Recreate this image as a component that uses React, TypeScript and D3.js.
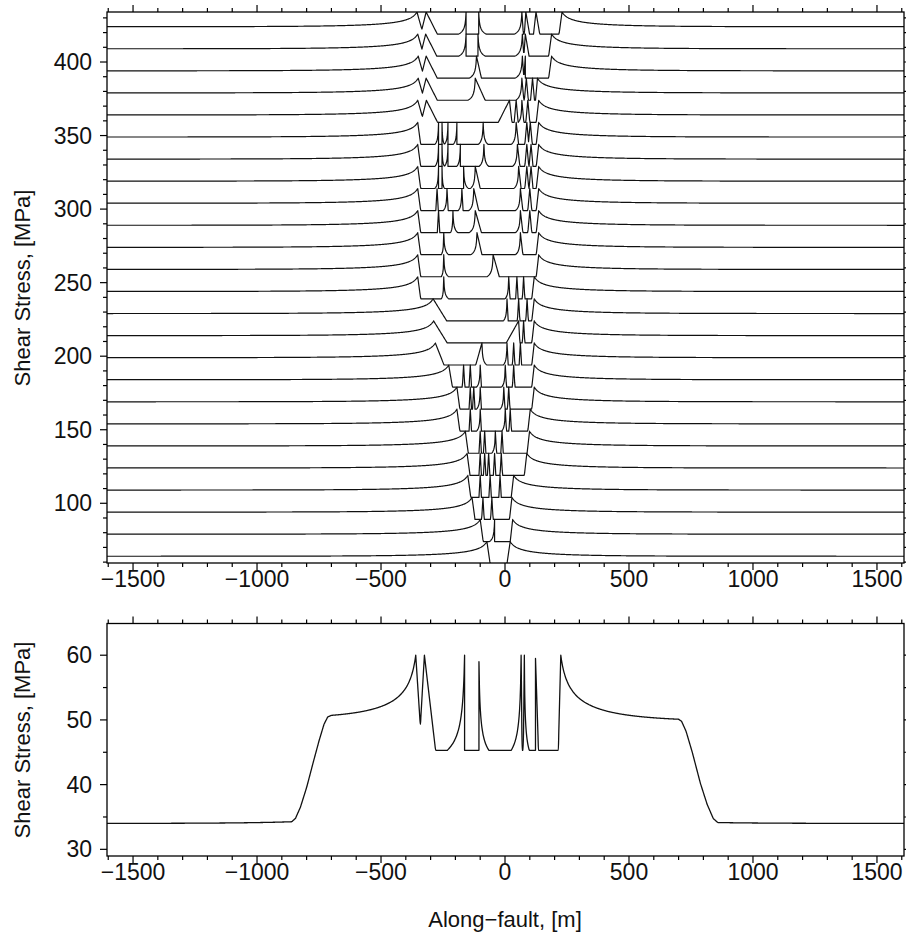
import React, { useMemo } from "react";
import * as d3 from "d3";

// ---------- shared axis data ----------
const X_DOMAIN = [-1605, 1609];
const X_MAJOR = [-1500, -1000, -500, 0, 500, 1000, 1500];
const X_MINOR = d3.range(-1600, 1601, 100);

// ---------- upper panel: stacked stress snapshots ----------
const SNAP_TOP_LEVEL = 424; // far-field level of the uppermost snapshot, MPa
const SNAP_STEP = 15; // vertical offset between snapshots, MPa
const PEAK_RISE = 10; // peak strength above far-field, MPa
const RESID_DROP = 5; // residual level below far-field, MPa

const TOP_Y_DOMAIN = [59.4, 434];
const TOP_Y_MAJOR = [100, 150, 200, 250, 300, 350, 400];
const TOP_Y_MINOR = d3.range(60, 431, 10);

// outer rupture tips of every snapshot (top to bottom), m
const tipLeft = [-355, -352, -350, -350, -352, -352, -352, -352, -352, -352, -352, -352, -352, -290, -288, -281, -227, -194, -194, -160, -153, -150, -133, -100, -73];
const tipRight = [230, 188, 188, 131, 136, 136, 136, 136, 136, 136, 136, 136, 118, 118, 118, 118, 118, 118, 102, 99, 88, 35, 28, 31, 21];
// width of the cohesive ramp behind each tip, m
const rampLeft = [25, 25, 25, 25, 25, 12, 12, 12, 12, 12, 12, 12, 12, 55, 55, 35, 15, 12, 12, 12, 12, 12, 12, 12, 13];
const rampRight = [12, 12, 12, 8, 10, 10, 10, 10, 10, 10, 10, 10, 10, 10, 10, 10, 10, 10, 10, 10, 10, 10, 10, 10, 13];

// stress peaks inside the ruptured zone: [x, left width, right width]
// positive width = linear ramp, negative = curved decay, 0 = vertical edge
const innerPeaks: number[][][] = [
  [[-318, 22, 45], [-157, -30, 0], [-106, 0, -30], [68, -30, 6], [84, 6, 15], [125, 10, 15]],
  [[-320, 22, 45], [-157, -30, 0], [-109, 0, -30], [70, -30, 6], [82, 6, 15]],
  [[-318, 22, 45], [-115, -30, 20], [70, -30, 6], [82, 6, 0]],
  [[-318, 22, 45], [-120, -30, 40], [68, -25, 8], [86, 8, 8], [111, 8, 8]],
  [[-317, 22, 45], [18, 45, 10], [45, 8, 8], [68, -15, 8], [92, 8, 8]],
  [[-268, -15, 0], [-254, 0, -10], [-230, -15, 0], [-194, -15, 0], [-88, -20, -20], [45, -20, 10], [88, 8, 8], [102, 8, 8]],
  [[-268, -15, 0], [-254, 0, -10], [-230, -15, 0], [-180, -15, 0], [-85, -20, -20], [50, -20, 10], [88, 8, 8], [105, 8, 8]],
  [[-268, -15, 0], [-254, 0, -10], [-167, 0, -20], [-120, -20, 20], [55, -20, 10], [88, 8, 8], [105, 8, 8]],
  [[-274, 5, 5], [-234, -15, 5], [-174, -15, 5], [-126, -20, 20], [62, -20, 10], [100, 8, 8]],
  [[-268, 5, 5], [-210, -10, -20], [-120, -25, 25], [62, -20, 10], [100, 8, 8]],
  [[-247, -10, -20], [-113, -25, 20], [62, -20, 10]],
  [[-247, -10, -20], [-48, -25, 25]],
  [[-247, -10, -20], [15, -15, 5], [48, 5, 5], [75, 5, 5]],
  [[8, -15, 5], [55, 5, 5], [89, 5, 5]],
  [[55, 50, 5], [75, 5, 5]],
  [[-93, 25, -20], [8, -15, 5], [35, 5, 5], [62, 5, 5]],
  [[-167, 5, 5], [-140, 5, 5], [-100, -15, 5], [1, -15, 5], [35, 5, 5]],
  [[-140, 5, 5], [-126, 5, 5], [-100, -15, 5], [-5, -15, 5], [15, 5, 5]],
  [[-140, 5, 5], [-100, -15, 5], [1, -15, 5], [21, 5, 5]],
  [[-100, 5, 5], [-82, 5, 5], [-39, -15, 5], [-12, 5, 5]],
  [[-100, 5, 5], [-82, 5, 5], [-66, 5, 5], [-42, 5, 5], [-15, 5, 5]],
  [[-100, 5, 5], [-60, 5, 5], [-20, 5, 5]],
  [[-89, 5, 5], [-53, 5, 5]],
  [[-42, -20, 0]],
  [],
];

// ---------- lower panel: final stress profile ----------
const BOT_Y_DOMAIN = [28.97, 64.9];
const BOT_Y_MAJOR = [30, 40, 50, 60];
const BOT_Y_MINOR = d3.range(30, 61, 5);

// initial (pre-stress) level along the fault, MPa
const preStressX = [-1609, -860, -845, -825, -800, -775, -750, -730, -715, -700, 700, 712, 730, 755, 788, 815, 840, 858, 1609];
const preStressY = [34, 34, 34.5, 36.2, 39.2, 42.8, 46.3, 48.8, 49.9, 50.1, 49.8, 49.5, 48.0, 44.8, 40, 36.8, 34.6, 34, 34];
const finalTips = [-360, 225];
const finalTipRamps = [25, 10];
const finalTipPeak = 60;
const finalResidual = 45.3;
// [x, left width, right width, peak level]
const finalPeaks = [
  [-325, 22, 45, 60],
  [-163, -70, 0, 60],
  [-105, 0, -40, 59],
  [65, -40, 4, 60],
  [78, 4, -20, 60],
  [123, 0, 12, 59.5],
];

// ---------- stress model helpers ----------
// decay of the stress concentration ahead of an outer tip
const outerDecay = (d: number) => Math.sqrt(20 / (d + 20)) * Math.exp(-d / 250);

// value on one flank of a peak at distance d
function flank(d: number, w: number, peak: number, floor: number) {
  if (d === 0) return peak;
  if (w > 0) return d < w ? floor + (peak - floor) * (1 - d / w) : -Infinity;
  if (w < 0) {
    const ww = -w;
    if (d >= ww) return -Infinity;
    const s = ww * 0.08;
    const e = Math.sqrt(s / (ww + s));
    return floor + ((peak - floor) * (Math.sqrt(s / (d + s)) - e)) / (1 - e);
  }
  return -Infinity;
}

function stressProfile(
  bg: (x: number) => number,
  xL: number,
  xR: number,
  rL: number,
  rR: number,
  tipPeak: number,
  resid: number,
  peaks: number[][],
  defaultPeak: number
): [number, number][] {
  const xs = d3.range(X_DOMAIN[0], X_DOMAIN[1] + 0.001, 2);
  const keys = [xL, xR, ...peaks.map((p) => p[0])];
  keys.forEach((k) => xs.push(k - 0.05, k, k + 0.05));
  xs.sort((a, b) => a - b);
  const ampL = tipPeak - bg(xL);
  const ampR = tipPeak - bg(xR);
  return xs.map((x) => {
    let v: number;
    if (x < xL) {
      v = bg(x) + ampL * outerDecay(xL - x);
    } else if (x > xR) {
      v = bg(x) + ampR * outerDecay(x - xR);
    } else {
      v = resid;
      v = Math.max(v, flank(x - xL, rL, tipPeak, resid));
      v = Math.max(v, flank(xR - x, rR, tipPeak, resid));
      for (const p of peaks) {
        const pk = p.length > 3 ? p[3] : defaultPeak;
        const d = x - p[0];
        v = Math.max(v, d < 0 ? flank(-d, p[1], pk, resid) : flank(d, p[2], pk, resid));
      }
    }
    return [x, v];
  });
}

const fmt = (v: number) => (v < 0 ? "\u2212" + Math.abs(v) : String(v));
const FONT = "'Liberation Sans', Arial, Helvetica, sans-serif";

type Box = { left: number; right: number; top: number; bottom: number };

function Frame({ box, x, y, yMajor, yMinor, xLabels }: any) {
  const { left, right, top, bottom } = box as Box;
  const els: any[] = [];
  X_MINOR.forEach((t) => {
    const px = x(t);
    if (px < left - 0.5 || px > right + 0.5) return;
    const len = X_MAJOR.includes(t) ? 7 : 4;
    els.push(<line key={"xb" + t} x1={px} x2={px} y1={bottom} y2={bottom + len} />);
    els.push(<line key={"xt" + t} x1={px} x2={px} y1={top} y2={top - len} />);
  });
  yMinor.forEach((t: number) => {
    const py = y(t);
    if (py < top - 0.5 || py > bottom + 0.5) return;
    const len = yMajor.includes(t) ? 7 : 4;
    els.push(<line key={"yl" + t} x1={left} x2={left - len} y1={py} y2={py} />);
    els.push(<line key={"yr" + t} x1={right} x2={right + len} y1={py} y2={py} />);
  });
  return (
    <g>
      <g stroke="#000" strokeWidth={1.2}>{els}</g>
      <rect x={left} y={top} width={right - left} height={bottom - top} fill="none" stroke="#000" strokeWidth={1.3} />
      <g fontFamily={FONT} fontSize={23} fill="#111">
        {xLabels &&
          X_MAJOR.map((t) => (
            <text key={"xl" + t} x={x(t)} y={bottom + 23.5} textAnchor="middle">
              {fmt(t)}
            </text>
          ))}
        {yMajor.map((t: number) => (
          <text key={"ylab" + t} x={left - 15} y={y(t) + 8} textAnchor="end">
            {fmt(t)}
          </text>
        ))}
      </g>
    </g>
  );
}

export default function App() {
  const topBox: Box = { left: 107, right: 904, top: 12, bottom: 563 };
  const botBox: Box = { left: 107, right: 904, top: 623.5, bottom: 856 };

  const x = d3.scaleLinear().domain(X_DOMAIN).range([topBox.left, topBox.right]);
  const yTop = d3.scaleLinear().domain(TOP_Y_DOMAIN).range([topBox.bottom, topBox.top]);
  const yBot = d3.scaleLinear().domain(BOT_Y_DOMAIN).range([botBox.bottom, botBox.top]);

  const snapshots = useMemo(
    () =>
      tipLeft.map((xL, j) => {
        const base = SNAP_TOP_LEVEL - SNAP_STEP * j;
        return stressProfile(
          () => base,
          xL,
          tipRight[j],
          rampLeft[j],
          rampRight[j],
          base + PEAK_RISE,
          base - RESID_DROP,
          innerPeaks[j],
          base + PEAK_RISE
        );
      }),
    []
  );

  const finalProfile = useMemo(() => {
    const pre = (xv: number) => {
      const i = d3.bisectRight(preStressX, xv);
      if (i <= 0) return preStressY[0];
      if (i >= preStressX.length) return preStressY[preStressY.length - 1];
      const x0 = preStressX[i - 1], x1 = preStressX[i];
      const t = (xv - x0) / (x1 - x0);
      return preStressY[i - 1] + (preStressY[i] - preStressY[i - 1]) * t;
    };
    return stressProfile(pre, finalTips[0], finalTips[1], finalTipRamps[0], finalTipRamps[1], finalTipPeak, finalResidual, finalPeaks, finalTipPeak);
  }, []);

  const lineTop = d3.line<[number, number]>().x((d) => x(d[0])).y((d) => yTop(d[1]));
  const lineBot = d3.line<[number, number]>().x((d) => x(d[0])).y((d) => yBot(d[1])).curve(d3.curveMonotoneX);

  return (
    <svg width={906} height={936} style={{ position: "absolute", left: 0, top: 0, background: "#fff" }}>
      <defs>
        <clipPath id="clipTop">
          <rect x={topBox.left} y={topBox.top} width={topBox.right - topBox.left} height={topBox.bottom - topBox.top} />
        </clipPath>
        <clipPath id="clipBot">
          <rect x={botBox.left} y={botBox.top} width={botBox.right - botBox.left} height={botBox.bottom - botBox.top} />
        </clipPath>
      </defs>
      <rect width={906} height={936} fill="#fff" />

      <g clipPath="url(#clipTop)" fill="none" stroke="#111" strokeWidth={1.2} strokeLinejoin="round">
        {snapshots.map((p, j) => (
          <path key={j} d={lineTop(p) || ""} />
        ))}
      </g>
      <Frame box={topBox} x={x} y={yTop} yMajor={TOP_Y_MAJOR} yMinor={TOP_Y_MINOR} xLabels />

      <g clipPath="url(#clipBot)" fill="none" stroke="#111" strokeWidth={1.3} strokeLinejoin="round">
        <path d={lineBot(finalProfile) || ""} />
      </g>
      <Frame box={botBox} x={x} y={yBot} yMajor={BOT_Y_MAJOR} yMinor={BOT_Y_MINOR} xLabels />

      <g fontFamily={FONT} fontSize={22} fill="#111">
        <text transform="translate(30,288) rotate(-90)" textAnchor="middle">
          Shear Stress, [MPa]
        </text>
        <text transform="translate(30,740) rotate(-90)" textAnchor="middle">
          Shear Stress, [MPa]
        </text>
        <text x={505} y={927} textAnchor="middle">
          Along{"\u2212"}fault, [m]
        </text>
      </g>
    </svg>
  );
}
